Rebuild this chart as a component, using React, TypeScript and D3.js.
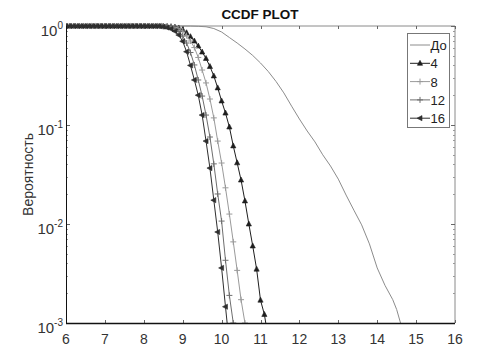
import * as d3 from 'd3'
import { useRef, useEffect } from 'react'

// sample grid of the marked curves: 6.0, 6.1, ... (step 0.1)
const stepStart = 6
const step = 0.1

const ones25 = [1, 1, 1, 1, 1, 1, 1, 1, 1, 1, 1, 1, 1, 1, 1, 1, 1, 1, 1, 1, 1, 1, 1, 1, 1]

const p4 = [...ones25,
  0.995, 0.99, 0.985, 0.975, 0.955, 0.92, 0.855, 0.78, 0.705, 0.628, 0.546, 0.47, 0.39,
  0.313, 0.237, 0.175, 0.132, 0.0955, 0.0615, 0.0415, 0.0278, 0.0171, 0.01, 0.006, 0.0035,
  0.0017, 0.00122, 0.0007]
const p8 = [...ones25,
  0.995, 0.99, 0.982, 0.965, 0.94, 0.89, 0.8, 0.705, 0.606, 0.481, 0.359, 0.266, 0.183,
  0.118, 0.0688, 0.0413, 0.0232, 0.0126, 0.0066, 0.0034, 0.00172, 0.001]
const p12 = [...ones25,
  0.99, 0.985, 0.97, 0.94, 0.88, 0.79, 0.673, 0.54, 0.404, 0.285, 0.196, 0.126, 0.0756,
  0.0405, 0.0201, 0.0107, 0.0043, 0.0019, 0.001]
const p16 = [...ones25,
  0.985, 0.965, 0.935, 0.885, 0.81, 0.7, 0.55, 0.4, 0.285, 0.2, 0.126, 0.0688, 0.0367,
  0.0174, 0.0083, 0.0036, 0.00146, 0.0006]

// "До" curve (no markers)
const xDo = [6, 9, 9.2, 9.4, 9.6, 9.8, 10, 10.2, 10.4, 10.6, 10.8, 11, 11.2, 11.4, 11.6, 11.8,
  12, 12.2, 12.4, 12.6, 12.8, 13, 13.2, 13.4, 13.6, 13.8, 14, 14.2, 14.4, 14.5, 14.6]
const pDo = [1, 1, 0.999, 0.993, 0.982, 0.943, 0.87, 0.765, 0.673, 0.586, 0.504, 0.423, 0.347,
  0.275, 0.211, 0.155, 0.115, 0.087, 0.0675, 0.05, 0.0385, 0.0284, 0.0196, 0.0138, 0.0098,
  0.0063, 0.0036, 0.0024, 0.00172, 0.00137, 0.001]

const xTicks = [6, 7, 8, 9, 10, 11, 12, 13, 14, 15, 16]
const yTicks = [1, 0.1, 0.01, 0.001]
const yTickExp = ['0', '-1', '-2', '-3']
const legendLabels = ['До', '4', '8', '12', '16']

const W = 503
const H = 349
const L = 66, R = 455, T = 26, B = 323

const series = [
  { name: '4', p: p4, color: '#1e1e1e', marker: 'triUp' },
  { name: '8', p: p8, color: '#9a9a9a', marker: 'plus' },
  { name: '12', p: p12, color: '#6e6e6e', marker: 'plus' },
  { name: '16', p: p16, color: '#2e2e2e', marker: 'triLeft' },
]

function drawMarker(g: any, kind: string, x: number, y: number, color: string) {
  if (kind === 'triUp') {
    g.append('path').attr('d', `M${x},${y - 3}L${x + 2.6},${y + 2}L${x - 2.6},${y + 2}Z`)
      .attr('fill', color).attr('stroke', color).attr('stroke-width', 0.6)
  } else if (kind === 'triLeft') {
    g.append('path').attr('d', `M${x - 3},${y}L${x + 2},${y - 2.6}L${x + 2},${y + 2.6}Z`)
      .attr('fill', color).attr('stroke', color).attr('stroke-width', 0.6)
  } else {
    g.append('path').attr('d', `M${x - 3},${y}H${x + 3}M${x},${y - 3}V${y + 3}`)
      .attr('fill', 'none').attr('stroke', color).attr('stroke-width', 1)
  }
}

export default function App() {
  const svgRef = useRef(null)

  useEffect(() => {
    const svg = d3.select(svgRef.current)
    svg.selectAll('*').remove()

    const x = d3.scaleLinear().domain([6, 16]).range([L, R])
    const y = d3.scaleLog().domain([0.001, 1]).range([B, T])

    svg.append('rect').attr('width', W).attr('height', H).attr('fill', '#fff')

    svg.append('defs').append('clipPath').attr('id', 'plotclip')
      .append('rect').attr('x', L).attr('y', T - 4).attr('width', R - L).attr('height', B - T + 4)

    // box
    svg.append('line').attr('x1', L).attr('x2', R).attr('y1', T).attr('y2', T).attr('stroke', '#8a8a8a')
    svg.append('line').attr('x1', R).attr('x2', R).attr('y1', T).attr('y2', B).attr('stroke', '#8a8a8a')

    // x ticks
    const tg = svg.append('g')
    xTicks.forEach(t => {
      const xp = Math.round(x(t)) + 0.5
      tg.append('line').attr('x1', xp).attr('x2', xp).attr('y1', B).attr('y2', B - 3).attr('stroke', '#666')
      tg.append('line').attr('x1', xp).attr('x2', xp).attr('y1', T).attr('y2', T + 3).attr('stroke', '#666')
      tg.append('text').attr('x', x(t)).attr('y', B + 21).attr('text-anchor', 'middle')
        .attr('font-family', 'Liberation Sans, Arial, sans-serif').attr('font-size', 14)
        .attr('fill', '#333').text(t)
    })

    // y minor ticks
    for (let e = -3; e < 0; e++) {
      for (let m = 2; m <= 9; m++) {
        const yp = Math.round(y(m * Math.pow(10, e))) + 0.5
        tg.append('line').attr('x1', L).attr('x2', L + 2).attr('y1', yp).attr('y2', yp).attr('stroke', '#999')
        tg.append('line').attr('x1', R).attr('x2', R - 2).attr('y1', yp).attr('y2', yp).attr('stroke', '#999')
      }
    }
    yTicks.forEach((t, i) => {
      const yp = Math.round(y(t)) + 0.5
      tg.append('line').attr('x1', L).attr('x2', L + 4).attr('y1', yp).attr('y2', yp).attr('stroke', '#666')
      tg.append('line').attr('x1', R).attr('x2', R - 4).attr('y1', yp).attr('y2', yp).attr('stroke', '#666')
      const txt = tg.append('text').attr('x', 63).attr('y', y(t) + 10).attr('text-anchor', 'end')
        .attr('font-family', 'Liberation Sans, Arial, sans-serif').attr('font-size', 15).attr('fill', '#333')
      txt.append('tspan').text('10')
      txt.append('tspan').attr('font-size', 10).attr('dy', -7).text(yTickExp[i])
    })

    // curves
    const plot = svg.append('g').attr('clip-path', 'url(#plotclip)')
    const line = d3.line<[number, number]>().x(d => x(d[0])).y(d => y(d[1]))

    const doPts: [number, number][] = xDo.map((v, i) => [v, pDo[i]])
    plot.append('path').attr('d', line(doPts)).attr('fill', 'none').attr('stroke', '#8c8c8c').attr('stroke-width', 1)

    series.forEach(s => {
      const pts: [number, number][] = s.p.map((v, i) => [stepStart + i * step, v])
      plot.append('path').attr('d', line(pts)).attr('fill', 'none').attr('stroke', s.color).attr('stroke-width', 1)
      const mg = plot.append('g')
      pts.forEach(d => {
        if (d[1] >= 0.001) drawMarker(mg, s.marker, x(d[0]), y(d[1]), s.color)
      })
    })

    // axes lines
    svg.append('line').attr('x1', L + 0.5).attr('x2', L + 0.5).attr('y1', T).attr('y2', B).attr('stroke', '#111')
    svg.append('line').attr('x1', L).attr('x2', R).attr('y1', B + 0.5).attr('y2', B + 0.5).attr('stroke', '#111').attr('stroke-width', 1.5)

    // title & label
    svg.append('text').attr('x', 260).attr('y', 19).attr('text-anchor', 'middle')
      .attr('font-family', 'Liberation Sans, Arial, sans-serif').attr('font-size', 13.5).attr('font-weight', 'bold')
      .attr('fill', '#111').text('CCDF PLOT')
    svg.append('text').attr('transform', `translate(33,${(T + B) / 2}) rotate(-90)`).attr('text-anchor', 'middle')
      .attr('font-family', 'Liberation Sans, Arial, sans-serif').attr('font-size', 14).attr('fill', '#333')
      .text('Вероятность')

    // legend
    const lg = svg.append('g')
    lg.append('rect').attr('x', 407.5).attr('y', 33.5).attr('width', 42).attr('height', 94)
      .attr('fill', '#fff').attr('stroke', '#777')
    const legendColors = ['#8c8c8c', ...series.map(s => s.color)]
    const legendMarkers = ['none', ...series.map(s => s.marker)]
    legendLabels.forEach((lab, i) => {
      const ly = 45 + i * 18.3
      lg.append('line').attr('x1', 410).attr('x2', 430).attr('y1', ly).attr('y2', ly).attr('stroke', legendColors[i])
      if (legendMarkers[i] !== 'none') drawMarker(lg, legendMarkers[i], 420, ly, legendColors[i])
      lg.append('text').attr('x', 430.5).attr('y', ly + 5).attr('font-family', 'Liberation Sans, Arial, sans-serif')
        .attr('font-size', 13).attr('fill', '#222').text(lab)
    })
  }, [])

  return <svg ref={svgRef} width={W} height={H} style={{ position: 'absolute', left: 0, top: 0 }}></svg>
}
